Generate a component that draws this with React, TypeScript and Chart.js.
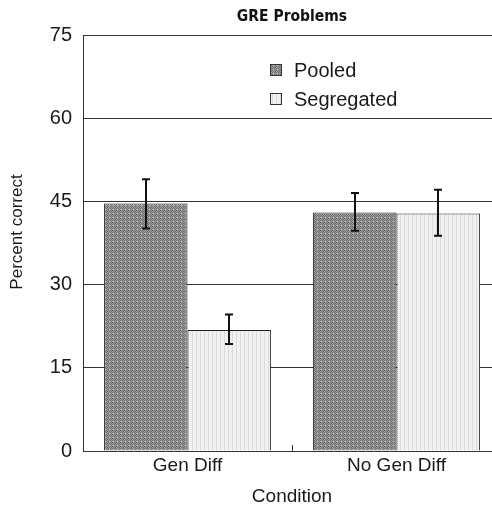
import React, { useEffect, useRef } from 'react';
import { Chart, registerables } from 'chart.js';

Chart.register(...registerables);

// ---- data ----
const categories = ['Gen Diff', 'No Gen Diff'];
const seriesNames = ['Pooled', 'Segregated'];
const pooledMeans = [44.6, 43.0];
const pooledLow = [40.1, 39.7];
const pooledHigh = [49.0, 46.5];
const segregatedMeans = [21.8, 42.8];
const segregatedLow = [19.3, 38.8];
const segregatedHigh = [24.6, 47.1];
const yTicks = [0, 15, 30, 45, 60, 75];
const chartTitle = 'GRE Problems';
const xTitle = 'Condition';
const yTitle = 'Percent correct';

const SANS = '"Liberation Sans", Arial, Helvetica, sans-serif';
const LINE = '#333333';

function makePattern(kind: 'dark' | 'light'): CanvasPattern | string {
  const c = document.createElement('canvas');
  c.width = 4;
  c.height = 4;
  const g = c.getContext('2d');
  if (!g) return kind === 'dark' ? '#808080' : '#e8e8e8';
  for (let x = 0; x < 4; x++) {
    for (let y = 0; y < 4; y++) {
      let col: string;
      if (kind === 'dark') {
        col = (x + y) % 2 === 0 ? '#6a6a6a' : '#a0a0a0';
        if (x % 4 === 1 && y % 4 === 1) col = '#bebebe';
      } else {
        col = x % 4 === 0 ? '#dcdcdc' : (x + y) % 2 === 0 ? '#ebebeb' : '#f6f6f6';
      }
      g.fillStyle = col;
      g.fillRect(x, y, 1, 1);
    }
  }
  const p = g.createPattern(c, 'repeat');
  return p || (kind === 'dark' ? '#808080' : '#e8e8e8');
}

const extrasPlugin = {
  id: 'extras',
  afterDatasetsDraw(chart: any) {
    const { ctx, chartArea } = chart;
    const yScale = chart.scales.y;
    const xScale = chart.scales.x;
    ctx.save();
    // error bars
    chart.data.datasets.forEach((ds: any, di: number) => {
      const meta = chart.getDatasetMeta(di);
      meta.data.forEach((bar: any, i: number) => {
        const x = Math.round(bar.x);
        const yl = yScale.getPixelForValue(ds.errLow[i]);
        const yh = yScale.getPixelForValue(ds.errHigh[i]);
        ctx.strokeStyle = '#111';
        ctx.lineWidth = 2;
        ctx.beginPath();
        ctx.moveTo(x, yl);
        ctx.lineTo(x, yh);
        ctx.moveTo(x - 4, yl);
        ctx.lineTo(x + 4, yl);
        ctx.moveTo(x - 4, yh);
        ctx.lineTo(x + 4, yh);
        ctx.stroke();
      });
    });
    // center tick between categories
    const midX = Math.round((xScale.getPixelForValue(0) + xScale.getPixelForValue(1)) / 2) + 0.5;
    ctx.strokeStyle = LINE;
    ctx.lineWidth = 1;
    ctx.beginPath();
    ctx.moveTo(midX, chartArea.bottom);
    ctx.lineTo(midX, chartArea.bottom - 6);
    ctx.stroke();
    ctx.restore();
  },
  afterDraw(chart: any) {
    const { ctx, chartArea } = chart;
    ctx.save();
    // title
    ctx.fillStyle = '#111';
    ctx.font = 'bold 15.5px "DejaVu Sans Condensed", "DejaVu Sans", Verdana, sans-serif';
    ctx.textAlign = 'center';
    ctx.textBaseline = 'middle';
    ctx.fillText(chartTitle, (chartArea.left + chartArea.right) / 2, 17);
    // y axis title
    ctx.save();
    ctx.translate(17, (chartArea.top + chartArea.bottom) / 2 - 11);
    ctx.rotate(-Math.PI / 2);
    ctx.fillStyle = '#1a1a1a';
    ctx.font = `17px ${SANS}`;
    ctx.textAlign = 'center';
    ctx.textBaseline = 'middle';
    ctx.fillText(yTitle, 0, 0);
    ctx.restore();
    // legend
    const lx = chartArea.left + 187;
    const ly = chartArea.top + 29;
    chart.data.datasets.forEach((ds: any, i: number) => {
      const y = ly + i * 29;
      ctx.fillStyle = ds.backgroundColor;
      ctx.fillRect(lx, y, 11, 11);
      ctx.strokeStyle = LINE;
      ctx.lineWidth = 1;
      ctx.strokeRect(lx + 0.5, y + 0.5, 11, 11);
      ctx.fillStyle = '#1a1a1a';
      ctx.font = `20px ${SANS}`;
      ctx.textAlign = 'left';
      ctx.textBaseline = 'middle';
      ctx.fillText(ds.label, lx + 24, y + 7);
    });
    ctx.restore();
  },
};

export default function App() {
  const ref = useRef<HTMLCanvasElement | null>(null);
  useEffect(() => {
    const canvas = ref.current;
    if (!canvas) return;
    const chart = new Chart(canvas, {
      type: 'bar',
      data: {
        labels: categories,
        datasets: [
          {
            label: seriesNames[0],
            data: pooledMeans,
            backgroundColor: makePattern('dark') as any,
            borderColor: '#222',
            borderWidth: 1,
            errLow: pooledLow,
            errHigh: pooledHigh,
          } as any,
          {
            label: seriesNames[1],
            data: segregatedMeans,
            backgroundColor: makePattern('light') as any,
            borderColor: '#222',
            borderWidth: 1,
            errLow: segregatedLow,
            errHigh: segregatedHigh,
          } as any,
        ],
      },
      options: {
        responsive: false,
        maintainAspectRatio: false,
        animation: false,
        devicePixelRatio: 1,
        layout: { padding: { top: 35, left: 0, right: 0, bottom: 0 } },
        datasets: { bar: { categoryPercentage: 0.8, barPercentage: 1.0 } },
        plugins: {
          legend: { display: false },
          title: { display: false },
          tooltip: { enabled: false },
        },
        scales: {
          x: {
            grid: { display: false },
            border: { display: true, color: LINE, width: 1 },
            ticks: {
              color: '#1a1a1a',
              font: { family: SANS, size: 19 },
              padding: -5,
            },
            title: {
              display: true,
              text: xTitle,
              color: '#1a1a1a',
              font: { family: SANS, size: 19 },
              padding: { top: 0, bottom: 0 },
            },
            afterFit: (s: any) => {
              s.height = 57;
            },
          },
          y: {
            min: 0,
            max: 75,
            afterBuildTicks: (s: any) => {
              s.ticks = yTicks.map((v) => ({ value: v }));
            },
            grid: { color: LINE, lineWidth: 1, drawTicks: false },
            border: { display: true, color: LINE, width: 1 },
            ticks: {
              color: '#1a1a1a',
              font: { family: SANS, size: 20 },
              padding: 11,
            },
            title: { display: false },
            afterFit: (s: any) => {
              s.width = 83;
            },
          },
        },
      } as any,
      plugins: [extrasPlugin],
    });
    return () => chart.destroy();
  }, []);
  return (
    <div
      style={{
        position: 'fixed',
        left: 0,
        top: 0,
        width: 492,
        height: 508,
        overflow: 'hidden',
        background: '#fff',
      }}
    >
      <canvas ref={ref} width={501} height={508} style={{ display: 'block', width: 501, height: 508 }} />
    </div>
  );
}
